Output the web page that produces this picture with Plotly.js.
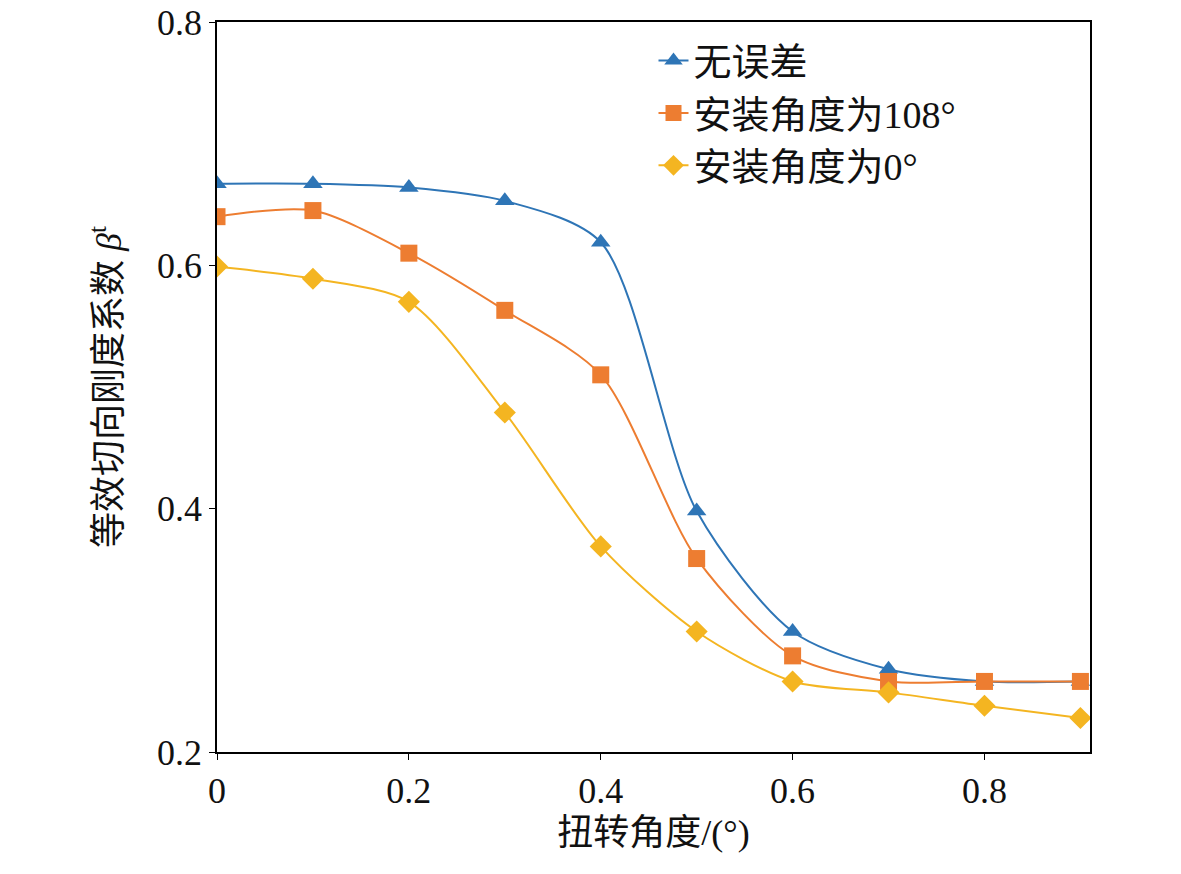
<!DOCTYPE html>
<html>
<head>
<meta charset="utf-8">
<script src="https://cdn.plot.ly/plotly-3.0.1.min.js"></script>
<style>body{margin:0;background:#fff}</style>
</head>
<body>
<div id="chart" style="width:1181px;height:874px"></div>
<script>
let twistAngle = [0, 0.1, 0.2, 0.3, 0.4, 0.5, 0.6, 0.7, 0.8, 0.9];
let noError = [0.667, 0.667, 0.664, 0.653, 0.619, 0.398, 0.299, 0.268, 0.258, 0.258];
let install108 = [0.640, 0.645, 0.610, 0.563, 0.510, 0.359, 0.279, 0.258, 0.258, 0.258];
let install0 = [0.599, 0.589, 0.570, 0.479, 0.369, 0.299, 0.258, 0.249, 0.238, 0.228];
let seriesNames = ['无误差', '安装角度为108°', '安装角度为0°'];

let serif = 'Liberation Serif, Noto Sans CJK SC, serif';

function makeTrace(name, y, color, symbol) {
    return {
        type: 'scatter',
        mode: 'lines+markers',
        name: name,
        x: twistAngle,
        y: y,
        line: {color: color, width: 2, shape: 'spline', smoothing: 0.8},
        marker: {color: color, symbol: symbol, size: 17}
    };
}

let traceData = [
    makeTrace(seriesNames[0], noError, '#2e75b6', 'triangle-up'),
    makeTrace(seriesNames[1], install108, '#ed7d31', 'square'),
    makeTrace(seriesNames[2], install0, '#f4b521', 'diamond')
];

let layout = {
    margin: {t: 22, r: 91, b: 122, l: 217},
    font: {family: serif, size: 36, color: '#111'},
    showlegend: true,
    legend: {x: 0.5, y: 0.99, xanchor: 'left', yanchor: 'top', bgcolor: 'rgba(0,0,0,0)',
             font: {size: 38}},
    xaxis: {
        range: [0, 0.91], tickvals: [0, 0.2, 0.4, 0.6, 0.8], ticktext: ['0', '0.2', '0.4', '0.6', '0.8'],
        showgrid: false, zeroline: false, showline: true, linecolor: '#000', linewidth: 1.5,
        mirror: true, ticks: 'outside', ticklen: 6, tickcolor: '#000',
        title: {text: '扭转角度/(°)', font: {size: 36}, standoff: 10}
    },
    yaxis: {
        range: [0.2, 0.8], tickvals: [0.2, 0.4, 0.6, 0.8], ticktext: ['0.2', '0.4', '0.6', '0.8'],
        showgrid: false, zeroline: false, showline: true, linecolor: '#000', linewidth: 1.5,
        mirror: true, ticks: 'outside', ticklen: 6, tickcolor: '#000',
        title: {text: '等效切向刚度系数 <i>β</i><sup>t</sup>', font: {size: 36}, standoff: 24}
    },
    plot_bgcolor: '#fff',
    paper_bgcolor: '#fff'
};

Plotly.newPlot('chart', traceData, layout, {displayModeBar: false});
</script>
</body>
</html>
